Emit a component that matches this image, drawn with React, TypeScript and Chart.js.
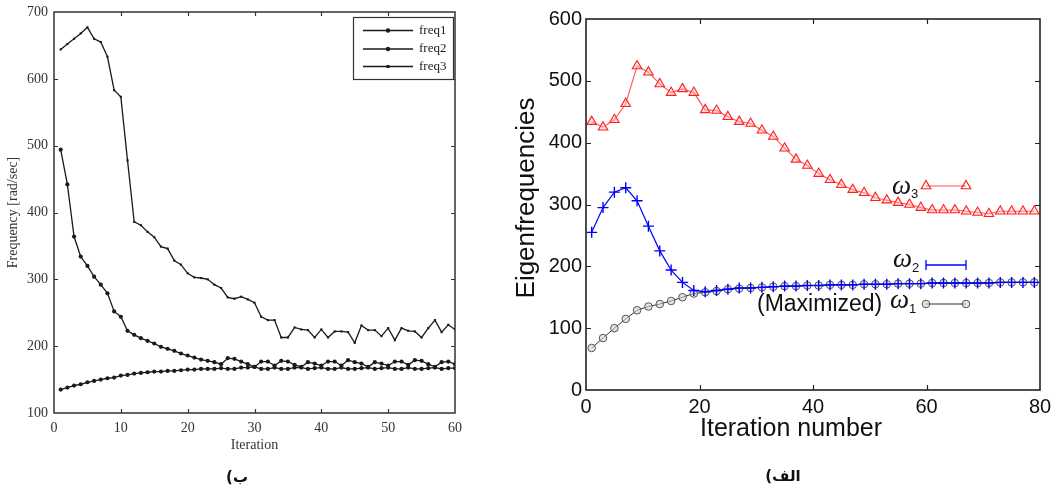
import React, { useEffect, useRef } from 'react';
import { Chart, registerables } from 'chart.js';

Chart.register(...registerables);

const SERIF = '"Liberation Serif", "Times New Roman", serif';
const SANS = '"Liberation Sans", Arial, sans-serif';

// ---------- Left chart (ب) ----------
const leftIterations = [
  1, 2, 3, 4, 5, 6, 7, 8, 9, 10, 11, 12, 13, 14, 15, 16, 17, 18, 19, 20,
  21, 22, 23, 24, 25, 26, 27, 28, 29, 30, 31, 32, 33, 34, 35, 36, 37, 38, 39, 40,
  41, 42, 43, 44, 45, 46, 47, 48, 49, 50, 51, 52, 53, 54, 55, 56, 57, 58, 59, 60,
];
const leftSeriesNames = ['freq1', 'freq2', 'freq3'];
const freq1 = [
  135, 138, 141, 143, 146, 148, 150, 152, 153, 156, 157, 159, 160, 161, 162, 162, 163, 163, 164, 165,
  165, 166, 166, 166, 167, 166, 166, 168, 168, 169, 166, 166, 168, 166, 166, 168, 168, 166, 167, 168,
  166, 166, 168, 166, 166, 167, 168, 166, 167, 168, 166, 166, 168, 166, 166, 167, 168, 166, 167, 167,
];
const freq2 = [
  494, 442, 364, 334, 320, 304, 292, 279, 252, 244, 223, 217, 212, 208, 204, 199, 196, 193, 189, 186,
  183, 180, 178, 176, 173, 182, 181, 177, 173, 169, 177, 177, 171, 178, 177, 172, 169, 176, 174, 171,
  177, 177, 171, 179, 176, 174, 169, 176, 174, 171, 177, 177, 172, 179, 178, 173, 169, 176, 177, 173,
];
const freq3 = [
  644, 652, 660, 668, 677, 660, 655, 633, 583, 573, 478, 386, 381, 371, 363, 349, 346, 328, 322, 309,
  303, 302, 300, 292, 287, 273, 271, 274, 270, 265, 244, 239, 239, 213, 213, 228, 225, 224, 213, 225,
  213, 222, 222, 221, 205, 231, 224, 224, 215, 227, 209, 227, 223, 222, 213, 227, 239, 221, 232, 225,
];
const leftXTicks = [0, 10, 20, 30, 40, 50, 60];
const leftYTicks = [100, 200, 300, 400, 500, 600, 700];

// ---------- Right chart (الف) ----------
const rightIterations = [
  1, 3, 5, 7, 9, 11, 13, 15, 17, 19, 21, 23, 25, 27, 29, 31, 33, 35, 37, 39,
  41, 43, 45, 47, 49, 51, 53, 55, 57, 59, 61, 63, 65, 67, 69, 71, 73, 75, 77, 79,
];
const omega1 = [
  68, 84, 100, 115, 129, 135, 139, 144, 150, 156, 158, 160, 163, 164, 165, 166, 167, 168, 168, 169,
  169, 170, 170, 170, 171, 171, 171, 172, 172, 172, 173, 173, 173, 173, 173, 173, 174, 174, 174, 174,
];
const omega2 = [
  255, 295, 320, 327, 306, 265, 225, 194, 174, 161, 159, 161, 163, 165, 165, 166, 167, 168, 168, 169,
  169, 170, 170, 170, 171, 171, 171, 172, 172, 172, 173, 173, 173, 173, 173, 173, 174, 174, 174, 174,
];
const omega3 = [
  434, 425, 437, 463, 524, 514, 495, 481, 487, 481, 453, 452, 442, 434, 431, 420, 410, 391, 373, 363,
  350, 340, 332, 324, 319, 311, 307, 303, 300, 295, 291, 291, 291, 289, 287, 285, 289, 289, 289, 289,
];
const rightXTicks = [0, 20, 40, 60, 80];
const rightYTicks = [0, 100, 200, 300, 400, 500, 600];

function makeFramePlugin(color: string, width: number, len: number) {
  return {
    id: 'frameTicks',
    afterDraw(chart: any) {
      const { ctx, chartArea: a, scales } = chart;
      ctx.save();
      ctx.strokeStyle = color;
      ctx.lineWidth = width;
      ctx.strokeRect(a.left, a.top, a.right - a.left, a.bottom - a.top);
      ctx.lineWidth = 1.2;
      ctx.beginPath();
      scales.x.ticks.forEach((t: any) => {
        const px = Math.round(scales.x.getPixelForValue(t.value)) + 0.5;
        if (px <= a.left + 2 || px >= a.right - 2) return;
        ctx.moveTo(px, a.bottom);
        ctx.lineTo(px, a.bottom - len);
        ctx.moveTo(px, a.top);
        ctx.lineTo(px, a.top + len);
      });
      scales.y.ticks.forEach((t: any) => {
        const py = Math.round(scales.y.getPixelForValue(t.value)) + 0.5;
        if (py <= a.top + 2 || py >= a.bottom - 2) return;
        ctx.moveTo(a.left, py);
        ctx.lineTo(a.left + len, py);
        ctx.moveTo(a.right, py);
        ctx.lineTo(a.right - len, py);
      });
      ctx.stroke();
      ctx.restore();
    },
  };
}

const leftLegendPlugin = {
  id: 'leftLegend',
  afterDraw(chart: any) {
    const { ctx, chartArea: a } = chart;
    const bx = a.right - 102;
    const by = a.top + 5;
    ctx.save();
    ctx.fillStyle = '#fff';
    ctx.fillRect(bx, by, 100, 62);
    ctx.strokeStyle = '#333';
    ctx.lineWidth = 1.2;
    ctx.strokeRect(bx + 0.5, by + 0.5, 100, 62);
    const rows = [13.5, 32, 49.5];
    chart.data.datasets.forEach((ds: any, i: number) => {
      const y = by + rows[i];
      ctx.strokeStyle = '#1a1a1a';
      ctx.lineWidth = 1.3;
      ctx.beginPath();
      ctx.moveTo(bx + 10, y);
      ctx.lineTo(bx + 60, y);
      ctx.stroke();
      ctx.fillStyle = '#1a1a1a';
      ctx.beginPath();
      if (i === 2) ctx.rect(bx + 33.5, y - 1.5, 3, 3);
      else ctx.arc(bx + 35, y, 2.2, 0, Math.PI * 2);
      ctx.fill();
      ctx.fillStyle = '#222';
      ctx.font = `13px ${SERIF}`;
      ctx.textBaseline = 'middle';
      ctx.textAlign = 'left';
      ctx.fillText(ds.label, bx + 66, y);
    });
    ctx.restore();
  },
};

function drawTri(ctx: any, x: number, y: number, r: number) {
  const s = Math.sin(Math.PI / 3) * r;
  ctx.beginPath();
  ctx.moveTo(x, y - r);
  ctx.lineTo(x + s, y + r / 2);
  ctx.lineTo(x - s, y + r / 2);
  ctx.closePath();
  ctx.stroke();
}

const rightLegendPlugin = {
  id: 'rightLegend',
  afterDraw(chart: any) {
    const { ctx } = chart;
    ctx.save();
    ctx.textAlign = 'left';
    ctx.textBaseline = 'alphabetic';
    const x0 = 426;
    const x1 = 466;
    // omega 3
    ctx.fillStyle = '#111';
    ctx.font = `italic 27px ${SERIF}`;
    ctx.fillText('ω', 392, 194);
    ctx.font = `13px ${SANS}`;
    ctx.fillText('3', 411, 198);
    ctx.strokeStyle = 'rgba(255,40,40,0.8)';
    ctx.lineWidth = 1.2;
    ctx.beginPath();
    ctx.moveTo(x0, 186);
    ctx.lineTo(x1, 186);
    ctx.stroke();
    ctx.strokeStyle = '#ff2020';
    drawTri(ctx, x0, 186, 5.5);
    drawTri(ctx, x1, 186, 5.5);
    // omega 2
    ctx.fillStyle = '#111';
    ctx.font = `italic 27px ${SERIF}`;
    ctx.fillText('ω', 393, 267);
    ctx.font = `13px ${SANS}`;
    ctx.fillText('2', 412, 272);
    ctx.strokeStyle = '#0000ff';
    ctx.lineWidth = 1.3;
    ctx.beginPath();
    ctx.moveTo(x0, 265);
    ctx.lineTo(x1, 265);
    ctx.moveTo(x0, 260);
    ctx.lineTo(x0, 270);
    ctx.moveTo(x1, 260);
    ctx.lineTo(x1, 270);
    ctx.stroke();
    // omega 1
    ctx.fillStyle = '#111';
    ctx.font = `23px ${SANS}`;
    ctx.fillText('(Maximized)', 257, 311);
    ctx.font = `italic 27px ${SERIF}`;
    ctx.fillText('ω', 390, 308);
    ctx.font = `13px ${SANS}`;
    ctx.fillText('1', 409, 313);
    ctx.strokeStyle = '#333';
    ctx.lineWidth = 1;
    ctx.beginPath();
    ctx.moveTo(x0, 304);
    ctx.lineTo(x1, 304);
    ctx.stroke();
    ctx.strokeStyle = '#555';
    ctx.fillStyle = 'rgba(210,210,210,0.6)';
    [x0, x1].forEach((x) => {
      ctx.beginPath();
      ctx.arc(x, 304, 3.8, 0, Math.PI * 2);
      ctx.fill();
      ctx.stroke();
    });
    // axis titles
    ctx.fillStyle = '#111';
    ctx.font = `25px ${SANS}`;
    ctx.textBaseline = 'middle';
    ctx.fillText('Iteration number', 200, 429);
    ctx.translate(27, 198);
    ctx.rotate(-Math.PI / 2);
    ctx.textAlign = 'center';
    ctx.font = `26px ${SANS}`;
    ctx.fillText('Eigenfrequencies', 0, 0);
    ctx.restore();
  },
};

function LeftChart() {
  const ref = useRef<HTMLCanvasElement | null>(null);
  useEffect(() => {
    if (!ref.current) return;
    const toPts = (arr: number[]) => leftIterations.map((x, i) => ({ x, y: arr[i] }));
    const series = [freq1, freq2, freq3];
    const chart = new Chart(ref.current, {
      type: 'line',
      data: {
        datasets: series.map((arr, i) => ({
          label: leftSeriesNames[i],
          data: toPts(arr),
          borderColor: '#1a1a1a',
          backgroundColor: '#1a1a1a',
          borderWidth: 1.3,
          pointRadius: i === 2 ? 1.5 : 2.1,
          pointStyle: i === 2 ? 'rect' : 'circle',
          pointBorderWidth: 0,
          tension: 0,
        })),
      },
      options: {
        animation: false,
        responsive: false,
        devicePixelRatio: 1,
        layout: { padding: { left: 0, top: 12, right: 45, bottom: 0 } },
        plugins: { legend: { display: false }, tooltip: { enabled: false } },
        scales: {
          x: {
            type: 'linear',
            min: 0,
            max: 60,
            afterBuildTicks: (s: any) => {
              s.ticks = leftXTicks.map((v) => ({ value: v }));
            },
            afterFit: (s: any) => {
              s.height = 78;
              s.paddingLeft = 0;
              s.paddingRight = 0;
            },
            grid: { display: false, drawTicks: false },
            border: { display: false },
            ticks: {
              font: { family: SERIF, size: 14 },
              color: '#333',
              padding: 7,
              maxRotation: 0,
              autoSkip: false,
            },
            title: {
              display: true,
              text: 'Iteration',
              font: { family: SERIF, size: 14 },
              color: '#333',
              padding: { top: 0, bottom: 37 },
            },
          },
          y: {
            type: 'linear',
            min: 100,
            max: 700,
            afterBuildTicks: (s: any) => {
              s.ticks = leftYTicks.map((v) => ({ value: v }));
            },
            afterFit: (s: any) => {
              s.width = 54;
              s.paddingTop = 0;
              s.paddingBottom = 0;
            },
            grid: { display: false, drawTicks: false },
            border: { display: false },
            ticks: {
              font: { family: SERIF, size: 14 },
              color: '#333',
              padding: 6,
              autoSkip: false,
            },
            title: {
              display: true,
              text: 'Frequency [rad/sec]',
              font: { family: SERIF, size: 14 },
              color: '#333',
              padding: { top: 5, bottom: 0 },
            },
          },
        },
      },
      plugins: [makeFramePlugin('#333', 1.5, 4), leftLegendPlugin],
    });
    return () => chart.destroy();
  }, []);
  return <canvas ref={ref} width={500} height={491} style={{ position: 'absolute', left: 0, top: 0 }} />;
}

function RightChart() {
  const ref = useRef<HTMLCanvasElement | null>(null);
  useEffect(() => {
    if (!ref.current) return;
    const toPts = (arr: number[]) => rightIterations.map((x, i) => ({ x, y: arr[i] }));
    const chart = new Chart(ref.current, {
      type: 'line',
      data: {
        datasets: [
          {
            label: 'ω3',
            data: toPts(omega3),
            borderColor: 'rgba(255,40,40,0.8)',
            borderWidth: 1.1,
            pointStyle: 'triangle',
            pointRadius: 5.5,
            pointBorderColor: '#ff2020',
            pointBackgroundColor: 'rgba(255,190,190,0.45)',
            pointBorderWidth: 1.1,
            tension: 0,
          },
          {
            label: 'ω2',
            data: toPts(omega2),
            borderColor: '#0000ff',
            borderWidth: 1.2,
            pointStyle: 'cross',
            pointRadius: 5.5,
            pointBorderColor: '#0000ff',
            pointBorderWidth: 1.4,
            tension: 0,
          },
          {
            label: '(Maximized) ω1',
            data: toPts(omega1),
            borderColor: '#333',
            borderWidth: 1,
            pointStyle: 'circle',
            pointRadius: 3.8,
            pointBorderColor: '#555',
            pointBackgroundColor: 'rgba(210,210,210,0.6)',
            pointBorderWidth: 1,
            tension: 0,
          },
        ],
      },
      options: {
        animation: false,
        responsive: false,
        devicePixelRatio: 1,
        layout: { padding: { left: 0, top: 19, right: 14, bottom: 0 } },
        plugins: { legend: { display: false }, tooltip: { enabled: false } },
        scales: {
          x: {
            type: 'linear',
            min: 0,
            max: 80,
            afterBuildTicks: (s: any) => {
              s.ticks = rightXTicks.map((v) => ({ value: v }));
            },
            afterFit: (s: any) => {
              s.height = 101;
              s.paddingLeft = 0;
              s.paddingRight = 0;
            },
            grid: { display: false, drawTicks: false },
            border: { display: false },
            ticks: {
              font: { family: SANS, size: 20 },
              color: '#111',
              padding: 5,
              maxRotation: 0,
              autoSkip: false,
            },
            title: { display: false },
          },
          y: {
            type: 'linear',
            min: 0,
            max: 600,
            afterBuildTicks: (s: any) => {
              s.ticks = rightYTicks.map((v) => ({ value: v }));
            },
            afterFit: (s: any) => {
              s.width = 86;
              s.paddingTop = 0;
              s.paddingBottom = 0;
            },
            grid: { display: false, drawTicks: false },
            border: { display: false },
            ticks: {
              font: { family: SANS, size: 20 },
              color: '#111',
              padding: 4,
              autoSkip: false,
            },
            title: { display: false },
          },
        },
      },
      plugins: [makeFramePlugin('#222', 1.6, 5), rightLegendPlugin],
    });
    return () => chart.destroy();
  }, []);
  return <canvas ref={ref} width={554} height={491} style={{ position: 'absolute', left: 500, top: 0 }} />;
}

const captionStyle: React.CSSProperties = {
  position: 'absolute',
  fontFamily: '"DejaVu Sans", sans-serif',
  fontWeight: 'bold',
  fontSize: 15,
  lineHeight: '20px',
  color: '#111',
  transform: 'translate(-50%, -50%)',
  whiteSpace: 'nowrap',
};

export default function App() {
  return (
    <div
      style={{
        position: 'fixed',
        left: 0,
        top: 0,
        width: 1054,
        height: 491,
        background: '#fff',
        overflow: 'hidden',
      }}
    >
      <LeftChart />
      <RightChart />
      <div dir="rtl" style={{ ...captionStyle, left: 237, top: 477 }}>
        ب)
      </div>
      <div dir="rtl" style={{ ...captionStyle, left: 783, top: 476 }}>
        الف)
      </div>
    </div>
  );
}
